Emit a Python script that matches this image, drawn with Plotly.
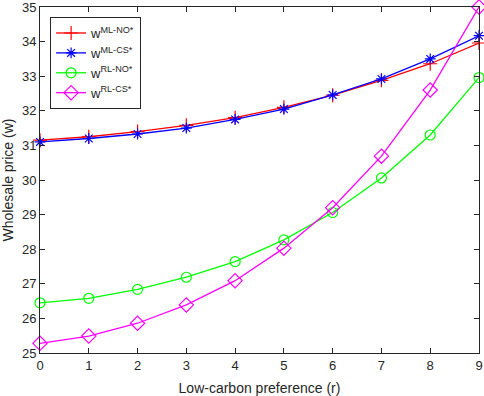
import plotly.graph_objects as go

r = list(range(10))
ml_no = [31.15, 31.25, 31.40, 31.58, 31.80, 32.10, 32.45, 32.88, 33.36, 33.96]
ml_cs = [31.10, 31.20, 31.33, 31.50, 31.75, 32.05, 32.46, 32.92, 33.50, 34.17]
rl_no = [26.45, 26.58, 26.84, 27.19, 27.64, 28.27, 29.06, 30.06, 31.30, 32.96]
rl_cs = [25.28, 25.49, 25.86, 26.39, 27.09, 28.03, 29.20, 30.69, 32.60, 35.00]

series = [
    ("w<sup>ML-NO*</sup>", ml_no, "#FF0000", "cross-thin-open", 10),
    ("w<sup>ML-CS*</sup>", ml_cs, "#0000FF", "asterisk-open", 9),
    ("w<sup>RL-NO*</sup>", rl_no, "#00FF00", "circle-open", 10),
    ("w<sup>RL-CS*</sup>", rl_cs, "#FF00FF", "diamond-open", 11),
]

fig = go.Figure()
for name, ys, col, sym, sz in series:
    fig.add_trace(go.Scatter(
        x=r, y=ys, mode="lines+markers", name=name,
        line=dict(color=col, width=1.3),
        marker=dict(symbol=sym, size=sz, color=col, line=dict(color=col, width=1.2)),
        cliponaxis=False,
    ))

axis_common = dict(
    showline=True, linecolor="#262626", linewidth=1, mirror="ticks",
    ticks="inside", ticklen=5, tickcolor="#262626",
    showgrid=False, zeroline=False, automargin=False,
    ticklabeloverflow="allow",
    tickfont=dict(family="Liberation Sans, Arial, sans-serif", size=13, color="#262626"),
    title_font=dict(family="Liberation Sans, Arial, sans-serif", size=14, color="#262626"),
)

fig.update_layout(
    width=484, height=396,
    margin=dict(l=40, r=5, t=7, b=43),
    paper_bgcolor="white", plot_bgcolor="white",
    xaxis=dict(range=[0, 9], dtick=1, title=dict(text="Low-carbon preference (r)", standoff=11), **axis_common),
    yaxis=dict(range=[25, 35], dtick=1, title=dict(text="Wholesale price (w)", standoff=5), **axis_common),
    legend=dict(
        x=0.023, y=0.971, xanchor="left", yanchor="top",
        bgcolor="white", bordercolor="#262626", borderwidth=1,
        font=dict(family="Liberation Sans, Arial, sans-serif", size=13, color="#262626"),
        tracegroupgap=0, itemwidth=30,
    ),
    showlegend=True,
)

fig.write_html("out.html", config={"displayModeBar": False},
               post_script="document.body.style.margin='0';document.body.style.padding='0';")
